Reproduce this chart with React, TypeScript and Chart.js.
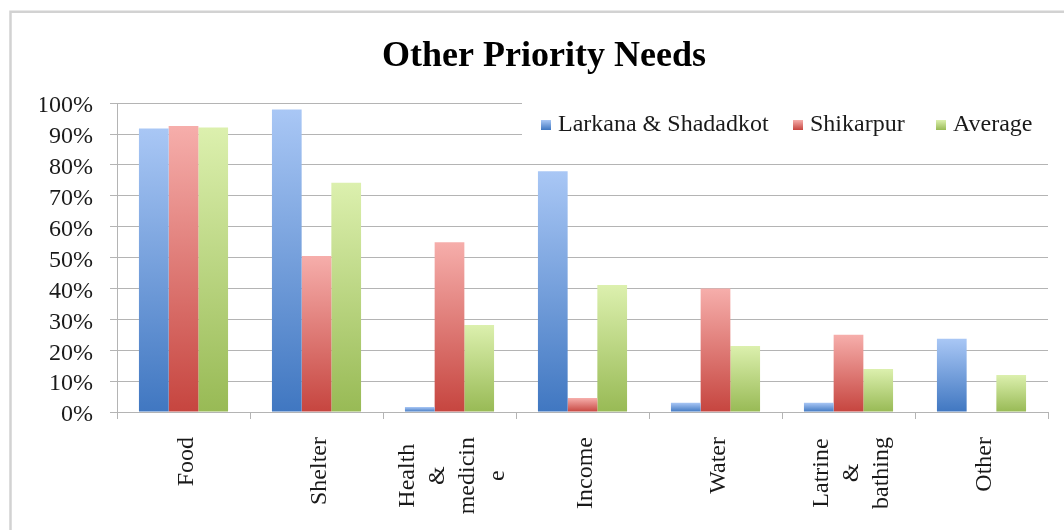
import React, { useEffect, useRef } from "react";
import { Chart, registerables } from "chart.js";

Chart.register(...registerables);

const categories: string[][] = [
  ["Food"],
  ["Shelter"],
  ["Health", "&", "medicin", "e"],
  ["Income"],
  ["Water"],
  ["Latrine", "&", "bathing"],
  ["Other"],
];
const seriesNames = ["Larkana & Shadadkot", "Shikarpur", "Average"];
const larkana = [0.918, 0.98, 0.016, 0.78, 0.03, 0.03, 0.237];
const shikarpur = [0.926, 0.505, 0.55, 0.045, 0.4, 0.25, 0];
const average = [0.921, 0.742, 0.282, 0.411, 0.214, 0.139, 0.12];
const yTickValues = [0, 0.1, 0.2, 0.3, 0.4, 0.5, 0.6, 0.7, 0.8, 0.9, 1];
const yTickLabels = ["0%", "10%", "20%", "30%", "40%", "50%", "60%", "70%", "80%", "90%", "100%"];

const FONT = "'Liberation Serif', 'Times New Roman', serif";
const GRID = "#b4b4b4";

const palettes = [
  { light: "#a9c7f5", dark: "#4077c1" },
  { light: "#f6aeab", dark: "#c6453f" },
  { light: "#dcf0ae", dark: "#98ba55" },
];

function barGradient(idx: number) {
  return (ctx: any) => {
    const p = palettes[idx];
    const chart = ctx.chart;
    const ys = chart.scales && chart.scales.y;
    if (ctx.type !== "data" || !ys || !chart.chartArea) return p.dark;
    const top = ys.getPixelForValue(ctx.raw);
    const bottom = ys.getPixelForValue(0);
    if (bottom - top < 1) return p.dark;
    const g = chart.ctx.createLinearGradient(0, top, 0, bottom);
    g.addColorStop(0, p.light);
    g.addColorStop(1, p.dark);
    return g;
  };
}

const framePlugin = {
  id: "frame",
  beforeDraw(chart: any) {
    const c = chart.ctx;
    c.save();
    c.strokeStyle = "#d2d2d2";
    c.lineWidth = 2.5;
    c.beginPath();
    c.moveTo(10.5, 540);
    c.lineTo(10.5, 11.7);
    c.lineTo(1070, 11.7);
    c.stroke();
    c.restore();
  },
};

const xLabelPlugin = {
  id: "xLabels",
  afterDraw(chart: any) {
    const c = chart.ctx;
    const xs = chart.scales.x;
    c.save();
    c.font = `24px ${FONT}`;
    c.fillStyle = "#1a1a1a";
    c.textAlign = "center";
    c.textBaseline = "middle";
    const lh = 30;
    categories.forEach((lines, i) => {
      const x = xs.getPixelForValue(i);
      const w = Math.max(...lines.map((l) => c.measureText(l).width));
      c.save();
      c.translate(x + 3, xs.top + 25);
      c.rotate(-Math.PI / 2);
      lines.forEach((l, j) => {
        c.fillText(l, -w / 2, (j - (lines.length - 1) / 2) * lh);
      });
      c.restore();
    });
    c.restore();
  },
};

const legendPlugin = {
  id: "overlayLegend",
  afterDatasetsDraw(chart: any) {
    const c = chart.ctx;
    c.save();
    c.fillStyle = "#ffffff";
    c.fillRect(522, 96, 536, 54);
    c.font = `24px ${FONT}`;
    c.textBaseline = "middle";
    c.textAlign = "left";
    const cy = 125;
    const boxX = [541, 793, 936];
    seriesNames.forEach((name, i) => {
      const p = palettes[i];
      const bx = boxX[i];
      const g = c.createLinearGradient(0, cy - 5, 0, cy + 5);
      g.addColorStop(0, p.light);
      g.addColorStop(1, p.dark);
      c.fillStyle = g;
      c.fillRect(bx, cy - 5, 10, 10);
      c.fillStyle = "#1a1a1a";
      c.fillText(name, bx + 17, cy);
    });
    c.restore();
  },
};

export default function App() {
  const ref = useRef<HTMLCanvasElement | null>(null);

  useEffect(() => {
    if (!ref.current) return;
    const chart = new Chart(ref.current, {
      type: "bar",
      data: {
        labels: categories,
        datasets: [larkana, shikarpur, average].map((d, i) => ({
          label: seriesNames[i],
          data: d,
          backgroundColor: barGradient(i),
          borderWidth: 0,
          barPercentage: 1,
          categoryPercentage: 0.67,
        })),
      },
      options: {
        responsive: false,
        animation: false,
        devicePixelRatio: 1,
        layout: { padding: { left: 40, right: 16, top: 0, bottom: 0 } },
        plugins: {
          legend: { display: false },
          tooltip: { enabled: false },
          title: {
            display: true,
            text: "Other Priority Needs",
            color: "#000",
            font: { family: FONT, size: 36, weight: "bold" },
            padding: { top: 35, bottom: 25 },
          },
        },
        scales: {
          x: {
            type: "category",
            offset: true,
            ticks: { display: false },
            grid: {
              drawOnChartArea: false,
              color: GRID,
              tickLength: 7,
              offset: true,
            },
            border: { color: GRID },
            afterFit: (s: any) => {
              s.height = 118;
            },
          },
          y: {
            min: 0,
            max: 1,
            afterBuildTicks: (s: any) => {
              s.ticks = yTickValues.map((v) => ({ value: v }));
            },
            ticks: {
              autoSkip: false,
              callback: (_v: any, i: number) => yTickLabels[i],
              font: { family: FONT, size: 24 },
              color: "#1a1a1a",
              padding: 17,
              labelOffset: 3,
            },
            grid: { color: GRID, tickLength: 7 },
            border: { color: GRID },
            afterFit: (s: any) => {
              s.width = 77;
            },
          },
        },
      },
      plugins: [framePlugin, xLabelPlugin, legendPlugin],
    } as any);
    return () => chart.destroy();
  }, []);

  return (
    <div style={{ position: "fixed", left: 0, top: 0, width: 1064, height: 530, background: "#fff" }}>
      <canvas ref={ref} width={1064} height={530} style={{ width: 1064, height: 530, display: "block" }} />
    </div>
  );
}
